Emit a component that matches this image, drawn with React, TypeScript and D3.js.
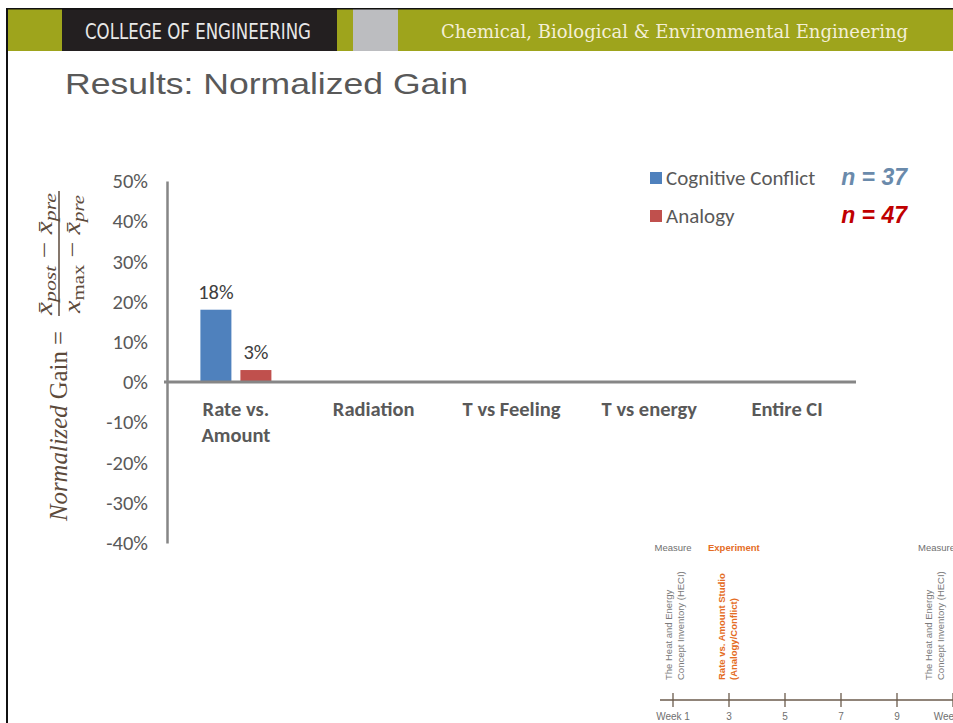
import React, { useEffect, useRef } from 'react';
import * as d3 from 'd3';

const categories = ['Rate vs.\nAmount', 'Radiation', 'T vs Feeling', 'T vs energy', 'Entire CI'];
const conflictGain: (number | null)[] = [0.18, null, null, null, null];
const analogyGain: (number | null)[] = [0.03, null, null, null, null];
const yTickValues = [0.5, 0.4, 0.3, 0.2, 0.1, 0, -0.1, -0.2, -0.3, -0.4];
const seriesNames = ['Cognitive Conflict', 'Analogy'];
const sampleSizes = [37, 47];
const weekTicks = [1, 3, 5, 7, 9, 11];
const weekLabels = ['Week 1', '3', '5', '7', '9', 'Week 11'];

const SERIES_COLORS = ['#4f81bd', '#c0504d'];
const N_COLORS = ['#6a8aab', '#c00000'];
const GREY = '#595959';
const BODY_FONT = 'Carlito, Calibri, Lato, sans-serif';

const pct = (v: number) => d3.format('.0%')(v).replace('\u2212', '-');

const App: React.FC = () => {
    const ref = useRef<SVGSVGElement>(null);

    useEffect(() => {
        if (!ref.current) return;
        const svg = d3.select(ref.current);
        svg.selectAll('*').remove();

        // slide header
        svg.append('rect').attr('x', 6).attr('y', 8).attr('width', 947).attr('height', 43).attr('fill', '#9ea41c');
        svg.append('rect').attr('x', 62).attr('y', 9).attr('width', 275).attr('height', 42).attr('fill', '#231f20');
        svg.append('rect').attr('x', 353).attr('y', 9).attr('width', 45).attr('height', 42).attr('fill', '#bcbdc0');
        svg.append('rect').attr('x', 6).attr('y', 8).attr('width', 947).attr('height', 1.5).attr('fill', '#111');
        svg.append('rect').attr('x', 6).attr('y', 8).attr('width', 2).attr('height', 715).attr('fill', '#111');

        svg.append('text')
            .attr('x', 85).attr('y', 39)
            .attr('font-family', '"Liberation Sans Narrow", "DejaVu Sans Condensed", sans-serif')
            .attr('font-size', 21).attr('fill', '#e8e8e8')
            .attr('textLength', 226).attr('lengthAdjust', 'spacingAndGlyphs')
            .text('COLLEGE OF ENGINEERING');
        svg.append('text')
            .attr('x', 441).attr('y', 38)
            .attr('font-family', '"DejaVu Serif Condensed", "Liberation Serif", serif')
            .attr('font-size', 19).attr('fill', '#f4efd6')
            .attr('textLength', 467).attr('lengthAdjust', 'spacingAndGlyphs')
            .text('Chemical, Biological & Environmental Engineering');

        svg.append('text')
            .attr('x', 65).attr('y', 94)
            .attr('font-family', '"Liberation Sans", Arial, sans-serif')
            .attr('font-size', 29).attr('fill', GREY)
            .attr('textLength', 403).attr('lengthAdjust', 'spacingAndGlyphs')
            .text('Results: Normalized Gain');

        // chart
        const x = d3.scaleBand<string>().domain(categories).range([167, 856]);
        const xInner = d3.scaleBand<string>().domain(seriesNames).range([0, x.bandwidth()])
            .paddingInner(0.225).paddingOuter(0.835);
        const y = d3.scaleLinear().domain([-0.4, 0.5]).range([543, 181]);

        const yAxis = svg.append('g').attr('transform', 'translate(167,0)')
            .call(d3.axisLeft(y).tickValues(yTickValues).tickSize(0).tickPadding(19)
                .tickFormat(d => pct(d as number)));
        yAxis.select('.domain').attr('stroke', '#868686').attr('stroke-width', 2.5);
        yAxis.selectAll('text')
            .attr('font-family', BODY_FONT).attr('font-size', 20.5).attr('fill', GREY);

        const rows = categories.map((c, i) => ({ cat: c, values: [conflictGain[i], analogyGain[i]] }));
        const groups = svg.selectAll('.cat').data(rows).enter().append('g')
            .attr('transform', d => `translate(${x(d.cat)},0)`);
        groups.selectAll('rect')
            .data(d => d.values.map((v, k) => ({ v, k })).filter(e => e.v !== null))
            .enter().append('rect')
            .attr('x', e => xInner(seriesNames[e.k]) || 0)
            .attr('width', xInner.bandwidth())
            .attr('y', e => y(Math.max(0, e.v as number)))
            .attr('height', e => Math.abs(y(e.v as number) - y(0)))
            .attr('fill', e => SERIES_COLORS[e.k]);
        groups.selectAll('.lbl')
            .data(d => d.values.map((v, k) => ({ v, k })).filter(e => e.v !== null))
            .enter().append('text')
            .attr('x', e => (xInner(seriesNames[e.k]) || 0) + xInner.bandwidth() / 2)
            .attr('y', e => y(e.v as number) - 11)
            .attr('text-anchor', 'middle')
            .attr('font-family', BODY_FONT).attr('font-size', 20.5).attr('fill', '#404040')
            .text(e => pct(e.v as number));

        svg.append('line')
            .attr('x1', 164).attr('x2', 856).attr('y1', y(0)).attr('y2', y(0))
            .attr('stroke', '#868686').attr('stroke-width', 3);

        const catText = svg.selectAll('.catlbl').data(categories).enter().append('text')
            .attr('text-anchor', 'middle')
            .attr('font-family', BODY_FONT).attr('font-size', 20.5).attr('font-weight', 'bold')
            .attr('fill', GREY);
        catText.selectAll('tspan').data(d => d.split('\n').map(t => ({ t, c: d })))
            .enter().append('tspan')
            .attr('x', d => (x(d.c) || 0) + x.bandwidth() / 2)
            .attr('y', (d, i) => y(0) + 34 + i * 26)
            .text(d => d.t);

        // y axis title with formula
        const brown = '#5c4a3b';
        const yt = svg.append('g').attr('transform', 'translate(67,521) rotate(-90)')
            .attr('fill', brown).attr('font-family', '"Liberation Serif", serif');
        const main = yt.append('text').attr('x', 0).attr('y', 0).attr('font-size', 25)
            .attr('textLength', 190).attr('lengthAdjust', 'spacingAndGlyphs');
        main.append('tspan').attr('font-style', 'italic').text('Normalized');
        main.append('tspan').text(' Gain =');

        const num = yt.append('text').attr('x', 267).attr('y', -15).attr('text-anchor', 'middle')
            .attr('font-size', 23).attr('textLength', 122).attr('lengthAdjust', 'spacingAndGlyphs');
        num.append('tspan').attr('font-style', 'italic').text('x\u0304');
        num.append('tspan').attr('font-style', 'italic').attr('font-size', 17).attr('dy', 4).text('post');
        num.append('tspan').attr('dy', -4).text(' \u2212 ');
        num.append('tspan').attr('font-style', 'italic').text('x\u0304');
        num.append('tspan').attr('font-style', 'italic').attr('font-size', 17).attr('dy', 4).text('pre');

        yt.append('line').attr('x1', 205).attr('x2', 330).attr('y1', -8).attr('y2', -8)
            .attr('stroke', brown).attr('stroke-width', 1.5);

        const den = yt.append('text').attr('x', 267).attr('y', 13).attr('text-anchor', 'middle')
            .attr('font-size', 23).attr('textLength', 118).attr('lengthAdjust', 'spacingAndGlyphs');
        den.append('tspan').attr('font-style', 'italic').text('x');
        den.append('tspan').attr('font-size', 17).attr('dy', 4).text('max');
        den.append('tspan').attr('dy', -4).text(' \u2212 ');
        den.append('tspan').attr('font-style', 'italic').text('x\u0304');
        den.append('tspan').attr('font-style', 'italic').attr('font-size', 17).attr('dy', 4).text('pre');

        // legend
        const lg = svg.selectAll('.leg').data(seriesNames).enter().append('g')
            .attr('transform', (d, i) => `translate(650,${172 + i * 38})`);
        lg.append('rect').attr('width', 12).attr('height', 12).attr('fill', (d, i) => SERIES_COLORS[i]);
        lg.append('text').attr('x', 16).attr('y', 13)
            .attr('font-family', BODY_FONT).attr('font-size', 21).attr('fill', GREY)
            .text(d => d);
        lg.append('text').attr('x', 257).attr('y', 13).attr('text-anchor', 'end')
            .attr('font-family', '"Liberation Sans", Arial, sans-serif').attr('font-size', 23)
            .attr('font-weight', 'bold').attr('font-style', 'italic')
            .attr('fill', (d, i) => N_COLORS[i])
            .text((d, i) => `n = ${sampleSizes[i]}`);

        // timeline inset
        const wk = d3.scaleLinear().domain([1, 11]).range([673, 953]);
        const tl = svg.append('g').attr('font-family', '"Liberation Sans", Arial, sans-serif');
        tl.append('line').attr('x1', 660).attr('x2', 953).attr('y1', 700).attr('y2', 700)
            .attr('stroke', '#6b5b4c').attr('stroke-width', 1.5);
        tl.selectAll('.tick').data(weekTicks).enter().append('line')
            .attr('x1', d => wk(d)).attr('x2', d => wk(d)).attr('y1', 693).attr('y2', 707)
            .attr('stroke', '#6b5b4c').attr('stroke-width', 1.3);
        tl.selectAll('.wl').data(weekTicks).enter().append('text')
            .attr('x', d => wk(d)).attr('y', 720).attr('text-anchor', 'middle')
            .attr('font-size', 10).attr('fill', '#6f6f6f')
            .text((d, i) => weekLabels[i]);

        tl.append('text').attr('x', wk(1)).attr('y', 551).attr('text-anchor', 'middle')
            .attr('font-size', 9.5).attr('fill', '#6f6f6f').text('Measure');
        tl.append('text').attr('x', 708).attr('y', 551)
            .attr('font-size', 9.5).attr('font-weight', 'bold').attr('fill', '#e46c24').text('Experiment');
        tl.append('text').attr('x', 918).attr('y', 551)
            .attr('font-size', 9.5).attr('fill', '#6f6f6f').text('Measure');

        const vtext = (px: number, lines: string[], color: string, bold: boolean) => {
            const t = tl.append('text').attr('transform', `translate(${px},680) rotate(-90)`)
                .attr('font-size', 9.5).attr('fill', color).attr('font-weight', bold ? 'bold' : 'normal');
            lines.forEach((l, i) => t.append('tspan').attr('x', 0).attr('y', i * 11.5).text(l));
        };
        vtext(wk(1) - 1, ['The Heat and Energy', 'Concept Inventory (HECI)'], '#7a7a7a', false);
        vtext(725, ['Rate vs. Amount Studio', '(Analogy/Conflict)'], '#e46c24', true);
        vtext(932, ['The Heat and Energy', 'Concept Inventory (HECI)'], '#7a7a7a', false);
    }, []);

    return (
        <svg ref={ref} width={953} height={723}
            style={{ position: 'absolute', left: 0, top: 0, background: '#fff' }}></svg>
    );
};

export default App;
